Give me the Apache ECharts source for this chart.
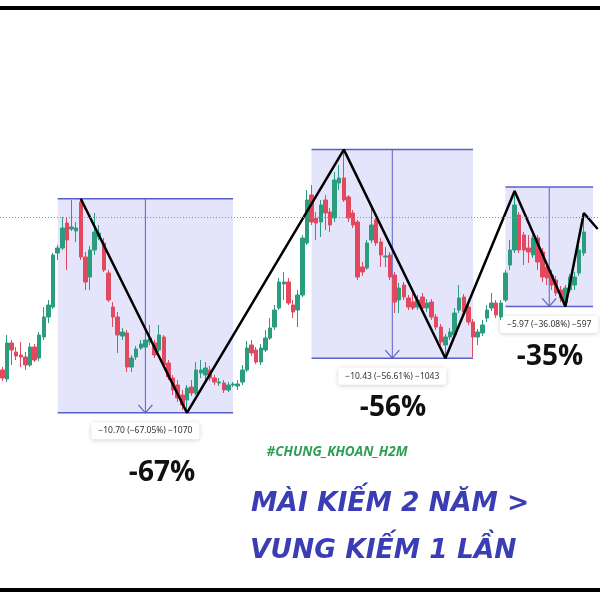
<!DOCTYPE html>
<html>
<head>
<meta charset="utf-8">
<script src="https://cdn.jsdelivr.net/npm/echarts@6/dist/echarts.min.js"></script>
<style>
  html, body { margin: 0; padding: 0; background: #ffffff; }
  #chart { width: 600px; height: 600px; }
</style>
</head>
<body>
<div id="chart"></div>
<script>
// Daily candles: [open, close, low, high]
const candles = [
  [7.40, 7.00, 6.85, 7.55], [6.95, 8.75, 6.80, 9.15], [8.75, 8.40, 7.65, 8.90], [8.30, 8.10, 7.90, 8.55],
  [8.15, 8.05, 7.55, 8.80], [8.05, 7.65, 7.40, 8.30], [7.65, 8.55, 7.55, 8.75], [8.55, 7.90, 7.80, 8.70],
  [8.00, 9.15, 7.85, 9.30], [9.05, 10.05, 8.90, 10.55], [10.05, 10.65, 9.75, 10.90], [10.55, 13.15, 10.45, 13.25],
  [13.25, 13.50, 12.90, 13.65], [13.50, 14.50, 13.40, 15.05], [14.75, 13.90, 12.40, 15.00], [14.45, 14.55, 14.35, 15.90],
  [14.35, 14.50, 13.80, 14.80], [15.80, 13.05, 12.90, 15.96], [13.05, 11.80, 11.40, 13.30], [12.05, 13.40, 11.40, 13.60],
  [13.40, 14.30, 13.15, 15.25], [14.05, 14.25, 13.90, 14.65], [13.75, 12.40, 12.30, 14.00], [12.25, 10.90, 10.80, 12.40],
  [10.55, 10.05, 9.55, 10.80], [10.05, 9.15, 8.25, 10.30], [9.10, 9.30, 8.90, 9.50], [9.25, 7.55, 7.30, 9.40],
  [7.55, 8.00, 7.30, 8.15], [8.05, 8.45, 7.90, 8.60], [8.50, 8.70, 8.40, 8.90], [8.55, 8.90, 8.40, 9.25],
  [8.80, 9.00, 8.65, 9.65], [8.75, 8.15, 8.00, 8.90], [8.40, 9.15, 8.30, 9.65], [9.05, 7.65, 7.55, 9.15],
  [7.75, 7.05, 6.90, 7.90], [7.00, 6.40, 6.15, 7.15], [6.65, 6.00, 5.80, 6.90], [6.15, 5.65, 5.40, 6.40],
  [5.90, 6.50, 5.26, 6.65], [6.55, 6.25, 6.10, 6.90], [6.25, 7.40, 6.15, 7.80], [7.25, 7.40, 7.00, 7.90],
  [7.15, 7.50, 6.90, 7.80], [7.40, 7.00, 6.85, 7.60], [7.00, 6.80, 6.65, 7.15], [6.75, 6.80, 6.60, 7.00],
  [6.75, 6.40, 6.25, 6.90], [6.40, 6.65, 6.30, 6.80], [6.65, 6.70, 6.55, 6.80], [6.60, 6.70, 6.40, 6.90],
  [6.80, 7.40, 6.65, 7.65], [7.40, 8.50, 7.30, 8.85], [8.65, 8.25, 8.10, 8.90], [8.40, 7.80, 7.70, 8.55],
  [7.80, 8.50, 7.65, 8.70], [8.40, 9.00, 8.30, 9.40], [9.00, 9.50, 8.90, 10.00], [9.55, 10.40, 9.40, 10.65],
  [10.50, 11.80, 10.40, 12.00], [11.70, 11.80, 10.90, 12.30], [11.80, 10.75, 10.65, 12.00], [10.65, 10.30, 10.00, 10.90],
  [10.40, 11.15, 9.55, 11.40], [11.15, 14.00, 11.05, 14.15], [13.75, 15.90, 13.65, 16.40], [16.15, 14.80, 14.65, 16.65],
  [15.00, 14.75, 13.90, 15.30], [14.80, 15.65, 14.05, 15.90], [15.90, 15.25, 14.40, 16.15], [15.30, 14.65, 14.30, 15.50],
  [15.00, 16.90, 14.80, 17.30], [16.75, 17.00, 16.40, 17.65], [17.00, 15.90, 15.80, 18.42], [16.05, 15.00, 14.80, 16.15],
  [15.25, 14.65, 14.50, 15.40], [14.80, 12.05, 11.90, 14.90], [12.55, 12.30, 12.10, 12.80], [12.50, 13.75, 12.40, 13.90],
  [13.90, 14.65, 13.75, 15.55], [14.90, 13.75, 13.60, 15.00], [13.80, 13.15, 12.55, 14.00], [13.05, 13.10, 12.55, 13.55],
  [13.15, 12.05, 11.90, 13.30], [12.15, 10.80, 10.25, 12.30], [10.90, 11.50, 10.25, 11.75], [11.65, 11.05, 10.90, 11.80],
  [11.00, 10.55, 10.40, 11.15], [10.80, 10.50, 10.40, 11.40], [10.55, 10.90, 10.40, 11.15], [11.05, 10.50, 10.30, 11.25],
  [10.50, 10.75, 10.30, 10.95], [10.80, 10.05, 9.90, 10.95], [10.05, 9.55, 9.40, 10.20], [9.55, 8.80, 8.65, 9.70],
  [8.65, 9.05, 7.99, 9.20], [9.05, 9.30, 8.90, 9.50], [9.15, 10.25, 9.00, 10.50], [10.40, 11.00, 10.25, 11.65],
  [11.05, 10.30, 10.15, 11.20], [10.55, 9.80, 9.65, 10.70], [9.80, 9.05, 8.05, 9.95], [9.05, 9.30, 8.65, 9.45],
  [9.25, 9.65, 9.10, 9.90], [10.00, 10.40, 9.80, 10.65], [10.50, 10.75, 10.35, 11.25], [10.75, 10.15, 10.00, 10.90],
  [10.05, 10.75, 9.90, 10.90], [10.90, 12.25, 10.80, 12.40], [12.65, 13.40, 12.40, 13.90], [13.40, 15.65, 13.25, 16.35],
  [15.15, 13.40, 13.25, 15.30], [14.15, 13.40, 12.65, 14.30], [13.50, 13.30, 12.75, 14.15], [13.15, 14.00, 13.00, 14.15],
  [14.00, 12.80, 12.40, 14.15], [13.30, 12.05, 11.80, 13.50], [12.55, 12.00, 11.65, 12.80], [12.15, 11.65, 11.40, 12.40],
  [11.90, 11.25, 11.10, 12.10], [11.40, 11.00, 10.80, 11.60], [10.80, 11.50, 10.58, 11.65], [11.40, 12.05, 11.25, 12.20],
  [11.65, 12.05, 11.40, 12.30], [12.25, 13.40, 12.10, 13.65], [13.25, 14.30, 13.10, 15.25]
];

// Sessions on the time axis (the last few are empty space to the right of the last candle)
const sessionCount = 130;
const sessions = Array.from({ length: sessionCount }, (_, i) => 'S' + (i + 1));

// Swing zigzag pivots: session index and price
const pivotIndex = [17, 40, 74, 96, 111, 122, 126, 129];
const pivotPrice = [15.96, 5.26, 18.42, 7.99, 16.35, 10.58, 15.25, 14.45];

// Drawdown measurement boxes
const boxStart = [12, 67, 109];
const boxEnd = [50, 102, 128];
const boxHigh = [15.96, 18.42, 16.55];
const boxLow = [5.26, 7.99, 10.58];
const boxLabels = ['\u221210.70 (\u221267.05%) \u22121070', '\u221210.43 (\u221256.61%) \u22121043', '\u22125.97 (\u221236.08%) \u2212597'];

// Last price guide
const lastPrice = 15.05;

// Headline annotations
const dropTexts = ['-67%', '-56%', '-35%'];
const tagText = '#CHUNG_KHOAN_H2M';
const sloganLines = ['M\u00c0I KI\u1ebeM 2 N\u0102M >', 'VUNG KI\u1ebeM 1 L\u1ea6N'];

const UP = '#2a9d7f';
const DOWN = '#e2495e';
const BOX_LINE = '#5a5fc8';

const chart = echarts.init(document.getElementById('chart'), null, { renderer: 'canvas' });

const boxData = boxStart.map((s, i) => [s, boxEnd[i], boxHigh[i], boxLow[i], i]);
const zigzag = pivotIndex.map((x, i) => [x, pivotPrice[i]]);

function renderBox(params, api) {
  const a = api.coord([api.value(0), api.value(2)]);
  const b = api.coord([api.value(1), api.value(3)]);
  const x0 = a[0], x1 = b[0], yTop = a[1], yBot = b[1];
  const mid = (x0 + x1) / 2;
  const k = api.value(4);
  return {
    type: 'group',
    children: [
      { type: 'rect', shape: { x: x0, y: yTop, width: x1 - x0, height: yBot - yTop },
        style: { fill: 'rgba(72,82,222,0.15)' } },
      { type: 'line', shape: { x1: x0, y1: yTop, x2: x1, y2: yTop },
        style: { stroke: BOX_LINE, lineWidth: 1.5 } },
      { type: 'line', shape: { x1: x0, y1: yBot, x2: x1, y2: yBot },
        style: { stroke: BOX_LINE, lineWidth: 1.5 } },
      { type: 'line', shape: { x1: mid, y1: yTop, x2: mid, y2: yBot },
        style: { stroke: BOX_LINE, lineWidth: 1 } },
      { type: 'polyline', shape: { points: [[mid - 7, yBot - 8], [mid, yBot], [mid + 7, yBot - 8]] },
        style: { stroke: BOX_LINE, lineWidth: 1.2, fill: null } },
      { type: 'text', z2: 50,
        style: {
          text: boxLabels[k], x: mid, y: yBot + 18, align: 'center', verticalAlign: 'middle',
          font: '8.5px "Noto Sans", sans-serif', fill: '#333333',
          backgroundColor: '#ffffff', padding: [4, 7], borderRadius: 3,
          shadowBlur: 5, shadowColor: 'rgba(0,0,0,0.18)', shadowOffsetY: 1
        } }
    ]
  };
}

const option = {
  animation: false,
  backgroundColor: '#ffffff',
  grid: { left: 0, right: 0, top: 0, bottom: 0 },
  xAxis: { type: 'category', data: sessions, boundaryGap: true, show: false },
  yAxis: { type: 'value', min: -4.1, max: 25.9, show: false, splitLine: { show: false } },
  series: [
    {
      type: 'custom', z: 1, renderItem: renderBox, data: boxData,
      encode: { x: [0, 1], y: [2, 3] }, silent: true, clip: false
    },
    {
      type: 'candlestick', z: 2, data: candles, barWidth: 4,
      itemStyle: { color: UP, color0: DOWN, borderColor: UP, borderColor0: DOWN, borderWidth: 1 },
      markLine: {
        silent: true, symbol: 'none', label: { show: false },
        lineStyle: { color: '#8f8f8f', type: [1, 2], width: 1 },
        data: [{ yAxis: lastPrice }]
      }
    },
    {
      type: 'line', z: 3, data: zigzag, symbol: 'none',
      lineStyle: { color: '#000000', width: 2.5 }, clip: false
    }
  ],
  graphic: [
    { type: 'line', shape: { x1: 0, y1: 8, x2: 600, y2: 8 }, style: { stroke: '#000', lineWidth: 4 } },
    { type: 'line', shape: { x1: 0, y1: 590, x2: 600, y2: 590 }, style: { stroke: '#000', lineWidth: 4 } },
    { type: 'text', x: 162, y: 473, style: { text: dropTexts[0], align: 'center', verticalAlign: 'middle', font: 'bold 28px "Open Sans", sans-serif', fill: '#111' } },
    { type: 'text', x: 393, y: 408, style: { text: dropTexts[1], align: 'center', verticalAlign: 'middle', font: 'bold 28px "Open Sans", sans-serif', fill: '#111' } },
    { type: 'text', x: 550, y: 357, style: { text: dropTexts[2], align: 'center', verticalAlign: 'middle', font: 'bold 28px "Open Sans", sans-serif', fill: '#111' } },
    { type: 'text', x: 337, y: 452, style: { text: tagText, align: 'center', verticalAlign: 'middle', font: 'italic bold 13.5px "Open Sans", sans-serif', fill: '#2e9e55' } },
    { type: 'text', x: 251, y: 504, style: { text: sloganLines[0], align: 'left', verticalAlign: 'middle', font: 'italic bold 26.5px "DejaVu Sans", sans-serif', fill: '#3a3db3' } },
    { type: 'text', x: 250, y: 551, style: { text: sloganLines[1], align: 'left', verticalAlign: 'middle', font: 'italic bold 26.5px "DejaVu Sans", sans-serif', fill: '#3a3db3' } }
  ]
};

chart.setOption(option);
</script>
</body>
</html>
